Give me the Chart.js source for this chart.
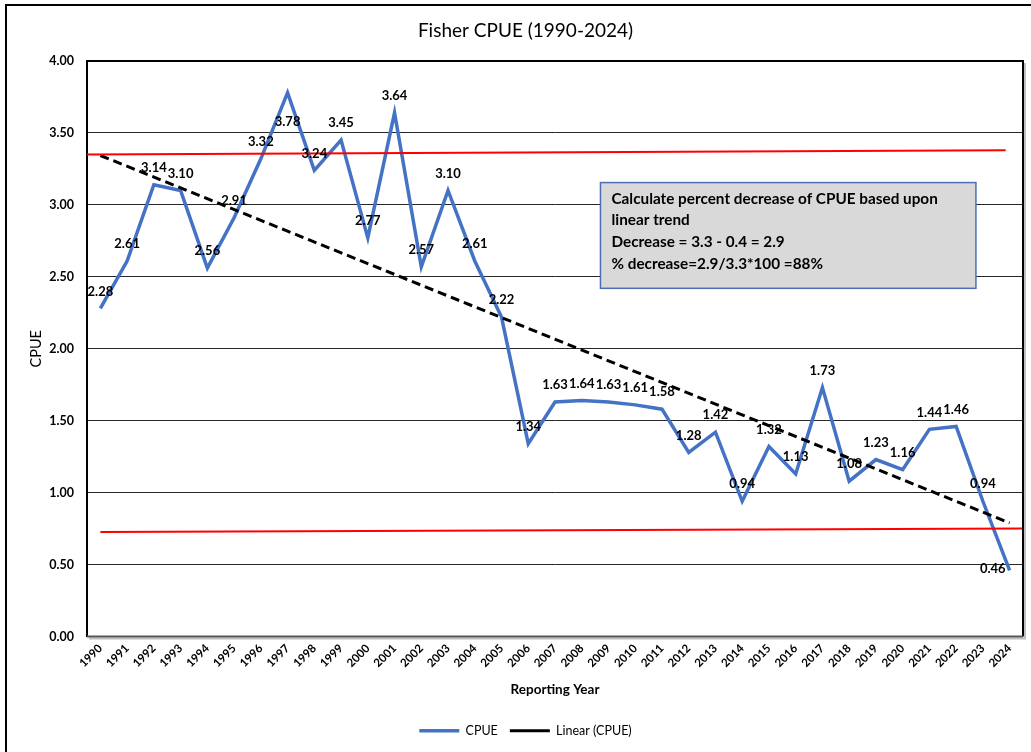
<!DOCTYPE html>
<html>
<head>
<meta charset="utf-8">
<script src="https://cdn.jsdelivr.net/npm/chart.js@4.4.1/dist/chart.umd.min.js"></script>
<style>
  html, body { margin: 0; padding: 0; background: #ffffff; }
  #wrap { width: 1031px; height: 752px; }
</style>
</head>
<body>
<div id="wrap"><canvas id="cpueChart" width="1031" height="752"></canvas></div>
<script>
// Reporting years and fisher CPUE values
const years = [1990, 1991, 1992, 1993, 1994, 1995, 1996, 1997, 1998, 1999,
               2000, 2001, 2002, 2003, 2004, 2005, 2006, 2007, 2008, 2009,
               2010, 2011, 2012, 2013, 2014, 2015, 2016, 2017, 2018, 2019,
               2020, 2021, 2022, 2023, 2024];
const cpue = [2.28, 2.61, 3.14, 3.10, 2.56, 2.91, 3.32, 3.78, 3.24, 3.45,
              2.77, 3.64, 2.57, 3.10, 2.61, 2.22, 1.34, 1.63, 1.64, 1.63,
              1.61, 1.58, 1.28, 1.42, 0.94, 1.32, 1.13, 1.73, 1.08, 1.23,
              1.16, 1.44, 1.46, 0.94, 0.46];
const yTicks = [0, 0.5, 1, 1.5, 2, 2.5, 3, 3.5, 4];

// Red reference lines (start and end of each)
const upperRefX = [1989.5, 2023.85];
const upperRefY = [3.35, 3.38];
const lowerRefX = [1990, 2024.5];
const lowerRefY = [0.727, 0.75];

// Note box text
const noteLines = [
  'Calculate percent decrease of CPUE based upon',
  'linear trend',
  'Decrease = 3.3 - 0.4 = 2.9',
  '% decrease=2.9/3.3*100 =88%'
];

// Least-squares linear trend of CPUE over the years
function linearTrend(xs, ys) {
  const n = xs.length;
  const mx = xs.reduce((a, b) => a + b, 0) / n;
  const my = ys.reduce((a, b) => a + b, 0) / n;
  let sxy = 0, sxx = 0;
  for (let i = 0; i < n; i++) {
    sxy += (xs[i] - mx) * (ys[i] - my);
    sxx += (xs[i] - mx) * (xs[i] - mx);
  }
  const slope = sxy / sxx;
  return x => my + slope * (x - mx);
}
const trend = linearTrend(years, cpue);

const FONT = 'Lato, "Open Sans", sans-serif';

// Label placement exceptions (default is above the point)
const labelPlacement = { 7: 'below', 34: 'left' };

// Plain white page with the outer frame
const framePlugin = {
  id: 'frame',
  beforeDraw(chart) {
    const ctx = chart.ctx;
    ctx.save();
    ctx.fillStyle = '#ffffff';
    ctx.fillRect(0, 0, chart.width, chart.height);
    ctx.strokeStyle = '#000000';
    ctx.lineWidth = 2;
    ctx.beginPath();
    ctx.moveTo(6, chart.height + 2);
    ctx.lineTo(6, 5);
    ctx.lineTo(chart.width + 2, 5);
    ctx.stroke();
    ctx.restore();
  }
};

// Border around the plotting area with a soft shadow on the right and bottom
const plotBorderPlugin = {
  id: 'plotBorder',
  afterDatasetsDraw(chart) {
    const { ctx, chartArea: a } = chart;
    ctx.save();
    ctx.strokeStyle = '#bfbfbf';
    ctx.lineWidth = 2;
    ctx.beginPath();
    ctx.moveTo(a.right + 2, a.top + 2);
    ctx.lineTo(a.right + 2, a.bottom + 2);
    ctx.lineTo(a.left + 2, a.bottom + 2);
    ctx.stroke();
    ctx.strokeStyle = '#000000';
    ctx.beginPath();
    ctx.moveTo(a.left, a.top);
    ctx.lineTo(a.right, a.top);
    ctx.lineTo(a.right, a.bottom);
    ctx.stroke();
    ctx.strokeStyle = '#555555';
    ctx.beginPath();
    ctx.moveTo(a.left, a.bottom);
    ctx.lineTo(a.right, a.bottom);
    ctx.stroke();
    ctx.restore();
  }
};

// Value labels on the CPUE line
const valueLabelPlugin = {
  id: 'valueLabels',
  afterDatasetsDraw(chart) {
    const ctx = chart.ctx;
    const meta = chart.getDatasetMeta(0);
    ctx.save();
    ctx.font = 'bold 13px ' + FONT;
    ctx.fillStyle = '#000000';
    ctx.textBaseline = 'middle';
    meta.data.forEach((pt, i) => {
      const txt = cpue[i].toFixed(2);
      const place = labelPlacement[i] || 'above';
      let x = pt.x, y = pt.y - 17;
      ctx.textAlign = 'center';
      if (place === 'below') { y = pt.y + 29; }
      if (place === 'left') { x = pt.x - 4; y = pt.y - 2; ctx.textAlign = 'right'; }
      ctx.fillText(txt, x, y);
    });
    ctx.restore();
  }
};

// Grey note box anchored to the chart's scales
const noteBox = { x0: 2008.7, x1: 2022.74, y0: 3.155, y1: 2.42 };
const notePlugin = {
  id: 'noteBox',
  afterDraw(chart) {
    const { ctx, scales } = chart;
    const left = scales.x.getPixelForValue(noteBox.x0);
    const right = scales.x.getPixelForValue(noteBox.x1);
    const top = scales.y.getPixelForValue(noteBox.y0);
    const bottom = scales.y.getPixelForValue(noteBox.y1);
    ctx.save();
    ctx.fillStyle = '#d9d9d9';
    ctx.fillRect(left, top, right - left, bottom - top);
    ctx.strokeStyle = '#4a6fb5';
    ctx.lineWidth = 1.5;
    ctx.strokeRect(left, top, right - left, bottom - top);
    ctx.fillStyle = '#000000';
    ctx.font = 'bold 15.3px ' + FONT;
    ctx.textAlign = 'left';
    ctx.textBaseline = 'middle';
    noteLines.forEach((line, i) => {
      ctx.fillText(line, left + 11, top + 16 + i * 21.7);
    });
    ctx.restore();
  }
};

const chart = new Chart(document.getElementById('cpueChart'), {
  type: 'line',
  data: {
    datasets: [
      {
        label: 'CPUE',
        data: years.map((y, i) => ({ x: y, y: cpue[i] })),
        borderColor: '#4472C4',
        backgroundColor: '#4472C4',
        borderWidth: 3.5,
        pointRadius: 0,
        tension: 0,
        order: 2
      },
      {
        label: 'Linear (CPUE)',
        data: [years[0], years[years.length - 1]].map(y => ({ x: y, y: trend(y) })),
        borderColor: '#000000',
        backgroundColor: '#000000',
        borderWidth: 3,
        borderDash: [9, 5],
        pointRadius: 0,
        order: 1
      },
      {
        label: 'upper',
        data: upperRefX.map((x, i) => ({ x, y: upperRefY[i] })),
        borderColor: '#ff0000',
        borderWidth: 2,
        pointRadius: 0,
        order: 0
      },
      {
        label: 'lower',
        data: lowerRefX.map((x, i) => ({ x, y: lowerRefY[i] })),
        borderColor: '#ff0000',
        borderWidth: 2,
        pointRadius: 0,
        order: 0
      }
    ]
  },
  options: {
    responsive: false,
    animation: false,
    devicePixelRatio: 1,
    layout: { padding: { left: 28, right: 8, top: 0, bottom: 5 } },
    plugins: {
      title: {
        display: true,
        text: 'Fisher CPUE (1990-2024)',
        color: '#000000',
        font: { family: FONT, size: 19, weight: 'normal', lineHeight: 1.2 },
        padding: { top: 19.6, bottom: 18.6 }
      },
      legend: {
        position: 'bottom',
        labels: {
          filter: item => item.datasetIndex < 2,
          sort: (a, b) => a.datasetIndex - b.datasetIndex,
          usePointStyle: true,
          pointStyle: 'line',
          pointStyleWidth: 40,
          boxHeight: 12,
          padding: 12,
          color: '#000000',
          font: { family: FONT, size: 12.5, weight: 'normal' }
        }
      },
      tooltip: { enabled: false }
    },
    scales: {
      x: {
        type: 'linear',
        min: years[0] - 0.5,
        max: years[years.length - 1] + 0.5,
        afterBuildTicks: axis => { axis.ticks = years.map(v => ({ value: v })); },
        afterFit: axis => { axis.height = 76; },
        grid: { display: false, drawTicks: false },
        border: { display: false },
        ticks: {
          autoSkip: false,
          minRotation: 45,
          maxRotation: 45,
          padding: 5,
          color: '#000000',
          font: { family: FONT, size: 11.5, weight: 'bold' },
          callback: v => String(v)
        },
        title: {
          display: true,
          text: 'Reporting Year',
          color: '#000000',
          font: { family: FONT, size: 13.5, weight: 'bold', lineHeight: 1.2 },
          padding: { top: 0, bottom: 14.4 }
        }
      },
      y: {
        min: 0,
        max: 4,
        afterBuildTicks: axis => { axis.ticks = yTicks.map(v => ({ value: v })); },
        afterFit: axis => { axis.width = 87 - 28; },
        grid: { color: '#262626', lineWidth: 1, drawTicks: false },
        border: { display: true, color: '#000000', width: 2 },
        ticks: {
          padding: 13,
          color: '#000000',
          font: { family: FONT, size: 12.5, weight: 'bold' },
          callback: v => v.toFixed(2)
        },
        title: {
          display: true,
          text: 'CPUE',
          color: '#000000',
          font: { family: FONT, size: 14.5, weight: 'normal', lineHeight: 1.2 },
          padding: { top: 0, bottom: 0 }
        }
      }
    }
  },
  plugins: [framePlugin, plotBorderPlugin, valueLabelPlugin, notePlugin]
});
</script>
</body>
</html>
